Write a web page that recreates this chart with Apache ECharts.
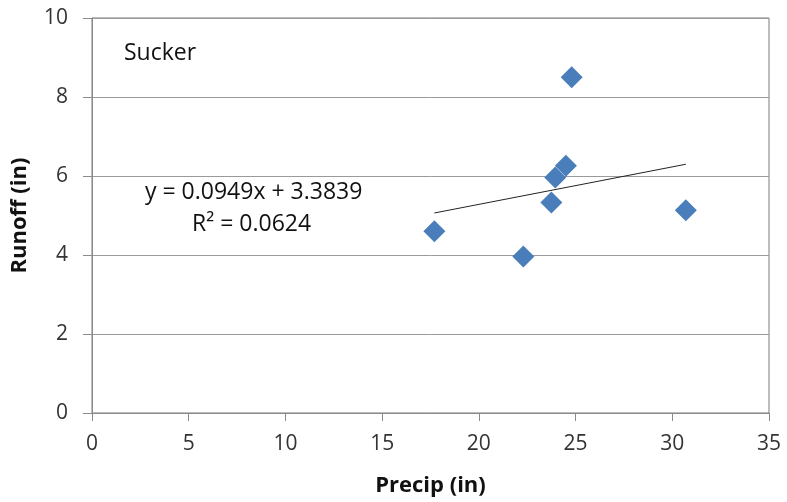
<!DOCTYPE html>
<html>
<head>
<meta charset="utf-8">
<script src="https://cdn.jsdelivr.net/npm/echarts@6/dist/echarts.min.js"></script>
<style>
  html, body { margin: 0; padding: 0; background: #fff; }
  #main { width: 787px; height: 502px; }
</style>
</head>
<body>
<div id="main"></div>
<script>
var precip = [17.7, 22.3, 23.75, 23.95, 24.5, 24.8, 30.7];
var runoff = [4.6, 3.96, 5.33, 5.96, 6.26, 8.5, 5.13];
var slope = 0.0949;
var intercept = 3.3839;
var r2 = 0.0624;

var points = precip.map(function (p, i) { return [p, runoff[i]]; });
var xMin = Math.min.apply(null, precip);
var xMax = Math.max.apply(null, precip);
var trend = [[xMin, slope * xMin + intercept], [xMax, slope * xMax + intercept]];

var font = 'Open Sans';
var myChart = echarts.init(document.getElementById('main'));
option = {
    animation: false,
    textStyle: { fontFamily: font },
    grid: {
        show: true,
        left: 92,
        right: 18,
        top: 18,
        bottom: 88,
        borderColor: '#7a7a7a',
        borderWidth: 1
    },
    xAxis: {
        type: 'value',
        min: 0,
        max: 35,
        interval: 5,
        name: 'Precip (in)',
        nameLocation: 'middle',
        nameGap: 62,
        nameTextStyle: { fontFamily: font, fontSize: 22, fontWeight: 'bold', color: '#111' },
        axisLine: { show: true, lineStyle: { color: '#8a8a8a', width: 1 } },
        axisTick: { show: true, length: 8, lineStyle: { color: '#8a8a8a' } },
        axisLabel: { fontSize: 21, color: '#333', margin: 21 },
        splitLine: { show: false }
    },
    yAxis: {
        type: 'value',
        min: 0,
        max: 10,
        interval: 2,
        name: 'Runoff (in)',
        nameLocation: 'middle',
        nameGap: 61,
        nameTextStyle: { fontFamily: font, fontSize: 22, fontWeight: 'bold', color: '#111' },
        axisLine: { show: true, lineStyle: { color: '#8a8a8a', width: 1 } },
        axisTick: { show: true, length: 9, lineStyle: { color: '#8a8a8a' } },
        axisLabel: { fontSize: 21, color: '#333', margin: 24 },
        splitLine: { show: true, lineStyle: { color: '#9a9a9a', width: 1 } }
    },
    graphic: [
        { type: 'text', left: 124, top: 42, style: { text: 'Sucker', font: '23px "Open Sans"', fill: '#111' } },
        { type: 'text', left: 145, top: 181, style: { text: 'y = 0.0949x + 3.3839', font: '23px "Open Sans"', fill: '#111' } },
        { type: 'text', left: 192, top: 213, style: { text: 'R² = ' + r2.toFixed(4), font: '23px "Open Sans"', fill: '#111' } }
    ],
    series: [
        {
            name: 'Trend',
            type: 'line',
            data: trend,
            symbol: 'none',
            lineStyle: { color: '#222', width: 1 },
            z: 1
        },
        {
            name: 'Sucker',
            type: 'scatter',
            data: points,
            symbol: 'diamond',
            symbolSize: 22,
            itemStyle: { color: '#4A7EBB', opacity: 1 },
            z: 2
        }
    ]
};
myChart.setOption(option);
</script>
</body>
</html>
